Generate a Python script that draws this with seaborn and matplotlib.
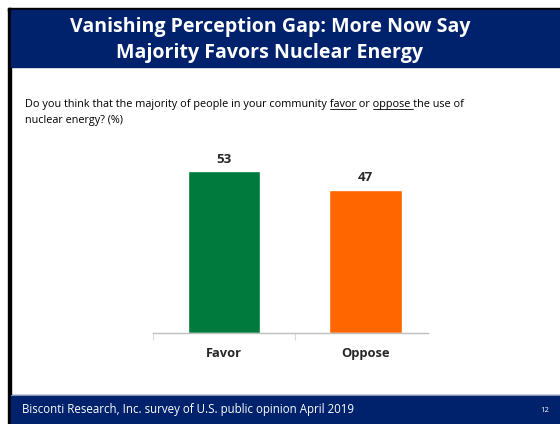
import matplotlib
matplotlib.use("Agg")
import matplotlib.pyplot as plt
import seaborn as sns
from matplotlib.patches import Rectangle
from matplotlib.lines import Line2D

categories = ["Favor", "Oppose"]
values = [53, 47]
bar_colors = ["#007A3D", "#FF6600"]

title_lines = "Vanishing Perception Gap: More Now Say\nMajority Favors Nuclear Energy"
q_pre = "Do you think that the majority of people in your community "
q_favor = "favor"
q_mid = " or "
q_oppose = "oppose "
q_post = "the use of"
q_line2 = "nuclear energy? (%)"
footer = "Bisconti Research, Inc. survey of U.S. public opinion April 2019"
page_no = "12"

NAVY = "#00216B"
FONT = "Open Sans"

sns.set_style("white")
plt.rcParams["font.family"] = [FONT, "DejaVu Sans"]

fig = plt.figure(figsize=(5.6, 4.24), dpi=100)
W, H = 560, 424


def fx(px):
    return px / W


def fy(py):
    return 1 - py / H


# slide frame: black left edge + top edge, navy header and footer bands
fig.patches.append(Rectangle((fx(7.5), 0), 3 / W, 1 - 7.5 / H, transform=fig.transFigure,
                             color="black", zorder=0))
fig.patches.append(Rectangle((fx(7.5), fy(10.5)), 1, 3 / H, transform=fig.transFigure,
                             color="black", zorder=0))
fig.patches.append(Rectangle((fx(10.5), fy(67)), 1, 56.5 / H, transform=fig.transFigure,
                             color=NAVY, zorder=0))
fig.patches.append(Rectangle((fx(10.5), 0), 1, 29.5 / H, transform=fig.transFigure,
                             color=NAVY, zorder=0))
fig.lines.append(Line2D([fx(10.5), 1], [fy(394.5), fy(394.5)], transform=fig.transFigure,
                        color="#8090B0", lw=0.8))

fig.text(fx(270), fy(40), title_lines, ha="center", va="center", color="white",
         fontsize=14.1, fontweight="bold", linespacing=1.35)

# question with underlined words
renderer = fig.canvas.get_renderer()
qsize = 7.8
x0 = fx(25)
fig.text(x0, fy(107), q_pre + q_favor + q_mid + q_oppose + q_post, fontsize=qsize,
         color="black", va="baseline")
fig.text(x0, fy(123), q_line2, fontsize=qsize, color="black", va="baseline")


def width_of(s):
    tmp = fig.text(0, 0, s, fontsize=qsize)
    w = tmp.get_window_extent(renderer).width
    tmp.remove()
    return w


for prefix, word in [(q_pre, q_favor), (q_pre + q_favor + q_mid, q_oppose)]:
    start = 25 + width_of(prefix + "x") - width_of("x")
    end = 25 + width_of(prefix + word + "x") - width_of("x")
    fig.lines.append(Line2D([fx(start), fx(end)], [fy(109), fy(109)],
                            transform=fig.transFigure, color="black", lw=0.6))

# chart
ax = fig.add_axes([fx(153), fy(333), fx(428) - fx(153), 183 / H])
sns.barplot(x=categories, y=values, hue=categories, palette=bar_colors, width=0.51,
            legend=False, ax=ax, saturation=1)
ax.set_ylim(0, 60)
ax.set_xlim(-0.5, 1.44)
for c in ax.containers:
    ax.bar_label(c, fmt="%d", padding=4, fontsize=9.5, fontweight="bold")
ax.set_yticks([])
for s in ["top", "right", "left"]:
    ax.spines[s].set_visible(False)
ax.spines["bottom"].set_color("#BFBFBF")
ax.spines["bottom"].set_linewidth(1)
ax.set_xticks([-0.5, 0.5], minor=True)
ax.tick_params(axis="x", which="minor", bottom=True, length=5, color="#D9D9D9", width=0.8)
ax.tick_params(axis="x", which="major", bottom=False, length=0, pad=10, labelsize=9.3)
for lab in ax.get_xticklabels():
    lab.set_fontweight("bold")
ax.set_xlabel("")
ax.set_ylabel("")

fig.text(fx(22), fy(410), footer, color="white", fontsize=8.3, va="center")
fig.text(fx(545), fy(410), page_no, color="white", fontsize=5.5, va="center", ha="center")

fig.savefig("out.png", dpi=100)
